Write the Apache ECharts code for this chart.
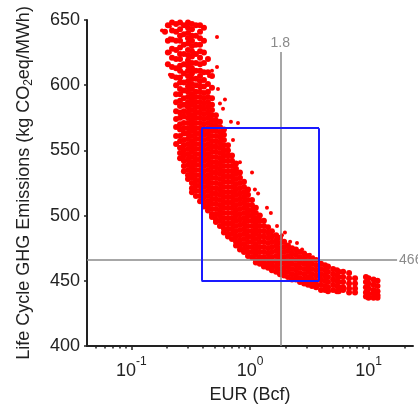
<!DOCTYPE html>
<html>
<head>
<meta charset="utf-8">
<script src="https://cdn.jsdelivr.net/npm/echarts@6/dist/echarts.min.js"></script>
<style>
  html, body { margin: 0; padding: 0; background: #fff; }
  #chart { width: 418px; height: 404px; }
</style>
</head>
<body>
<div id="chart"></div>
<script>
// EUR 列位置 (Bcf)，每列一条竖直的点带
const eurCols = [
  0.192, 0.203, 0.220, 0.238, 0.257, 0.277, 0.300, 0.324, 0.350, 0.379,
  0.409, 0.442, 0.478, 0.516, 0.558, 0.603, 0.652, 0.705, 0.762, 0.823,
  0.890, 0.962, 1.04, 1.12, 1.21, 1.31, 1.42, 1.53, 1.66, 1.79,
  1.94, 2.09, 2.26, 2.44, 2.64, 2.86, 3.09, 3.33, 3.61, 3.97,
  4.29, 4.55, 5.02, 5.42, 5.6, 6.1, 6.85, 7.69, 9.5, 10.0,
  11.0, 11.9
];

// 每列对应的全生命周期排放 (kg CO2eq/MWh)
const ghgCols = [
  [641],
  [646, 634, 625, 616],
  [648, 642, 635, 628, 621, 614, 607],
  [647, 641, 634, 627, 620, 613, 606, 600, 593, 587, 580, 574, 568, 561, 555],
  [648, 643, 638, 634, 629, 624, 620, 615, 611, 606, 602, 597, 593, 588, 584, 579, 575, 570, 566, 561, 557, 552, 548, 544],
  [646, 639, 631, 624, 616, 609, 602, 596, 590, 585, 580, 576, 571, 567, 563, 558, 554, 550, 546, 542, 538, 534],
  [648, 644, 640, 636, 632, 627, 623, 619, 615, 611, 607, 603, 599, 595, 591, 587, 583, 579, 575, 571, 567, 563, 559, 555, 551, 547, 543, 539, 535, 531, 528],
  [647, 643, 638, 634, 630, 626, 622, 617, 613, 609, 605, 601, 597, 593, 589, 585, 581, 577, 573, 569, 565, 561, 557, 553, 549, 545, 541, 537, 533, 529, 525, 521, 518],
  [646, 638, 631, 624, 617, 611, 605, 600, 595, 591, 587, 583, 579, 575, 571, 567, 563, 559, 555, 551, 547, 543, 539, 535, 531, 527, 523, 519, 515],
  [646, 641, 636, 631, 626, 621, 616, 611, 607, 603, 599, 595, 591, 587, 583, 579, 575, 571, 567, 563, 559, 555, 551, 547, 543, 539, 535, 531, 527, 523, 519, 515, 511],
  [644, 634, 625, 617, 610, 604, 599, 594, 590, 586, 582, 578, 574, 570, 566, 562, 558, 554, 550, 546, 542, 538, 534, 530, 526, 522, 518, 514, 510, 507],
  [620, 610, 601, 595, 591, 587, 583, 579, 575, 571, 567, 563, 559, 555, 551, 547, 543, 539, 535, 531, 527, 523, 519, 515, 511, 507, 504],
  [607, 598, 590, 585, 581, 577, 573, 569, 565, 561, 557, 553, 549, 545, 541, 537, 533, 529, 525, 521, 517, 513, 509, 505, 501, 499],
  [577, 573, 569, 565, 561, 557, 553, 549, 545, 541, 537, 533, 529, 525, 521, 517, 513, 509, 505, 501, 497, 495],
  [572, 568, 564, 560, 556, 552, 548, 544, 540, 536, 532, 528, 524, 520, 516, 512, 508, 504, 500, 496, 492],
  [566, 562, 558, 554, 550, 546, 542, 538, 534, 530, 526, 522, 518, 514, 510, 506, 502, 498, 494, 490, 487],
  [554, 550, 546, 542, 538, 534, 530, 526, 522, 518, 514, 510, 506, 502, 498, 494, 490, 486, 484],
  [546, 542, 538, 534, 530, 526, 522, 518, 514, 510, 506, 502, 498, 494, 490, 486, 482],
  [540, 536, 532, 528, 524, 520, 516, 512, 508, 504, 500, 496, 492, 488, 484, 480, 477],
  [533, 529, 525, 521, 517, 513, 509, 505, 501, 497, 493, 489, 485, 481, 477, 474],
  [526, 522, 518, 514, 510, 506, 502, 498, 494, 490, 486, 482, 478, 474, 472],
  [520, 516, 512, 508, 504, 500, 496, 492, 488, 484, 480, 476, 472, 469],
  [512, 508, 504, 500, 496, 492, 488, 484, 480, 476, 472, 468],
  [506, 502, 498, 494, 490, 486, 482, 478, 474, 470, 466, 464],
  [500, 496, 492, 488, 484, 480, 476, 472, 468, 465, 463],
  [496, 492, 488, 484, 480, 476, 472, 468, 464, 461],
  [491, 487, 483, 479, 475, 471, 467, 463, 460],
  [488, 484, 480, 476, 472, 468, 464, 461, 458],
  [485, 481, 477, 473, 469, 465, 461, 457],
  [483, 479, 475, 471, 467, 463, 459, 455],
  [480, 476, 472, 468, 464, 460, 457, 454],
  [477, 473, 469, 465, 461, 457, 453],
  [475, 471, 467, 463, 459, 455, 451],
  [474, 470, 466, 462, 458, 454, 451],
  [472, 468, 464, 460, 456, 452, 449],
  [471, 467, 463, 459, 455, 451, 448],
  [469, 465, 461, 457, 453, 450, 447],
  [467, 463, 459, 455, 451, 448, 446],
  [466, 462, 458, 454, 450, 447, 445],
  [463, 459, 455, 451, 447, 443],
  [462, 458, 454, 450, 446, 443],
  [461, 457, 453, 449, 445, 442],
  [459, 455, 451, 447, 443],
  [458, 454, 450, 446, 442],
  [457, 453, 449, 445, 442],
  [457, 453, 449, 445, 443],
  [456, 452, 448, 444, 441],
  [452, 448, 444, 441],
  [453, 449, 445, 441, 438],
  [452, 448, 444, 440, 437],
  [451, 447, 443, 440, 437],
  [450, 446, 442, 439, 437]
];

// 散落在带外的零星点
const eurOut = [0.181, 0.211, 0.211, 0.211, 0.211, 0.527, 0.527, 0.478, 0.451, 0.537,
  0.615, 0.558, 0.592, 0.691, 0.792, 0.719, 0.823, 1.04, 1.10, 1.17,
  1.39, 1.50, 1.69, 1.86, 1.97, 2.18, 2.49, 2.75, 3.2, 3.4, 4.3, 5.0];
const ghgOut = [642, 645, 636, 625, 608, 637, 614, 611, 607, 597,
  589, 586, 582, 572, 571, 558, 541, 533, 520, 517,
  506, 502, 492, 485, 487, 480, 479, 474, 470, 468, 462, 458];

// 参考线与方框
const eurRef = 1.8;
const ghgRef = 466;
const boxEur = [0.39, 3.82];
const boxGhg = [450, 567];

// 坐标轴刻度
const yTicks = [400, 450, 500, 550, 600, 650];
const xMajor = [0.1, 1, 10];
const xMinor = [0.05, 0.06, 0.07, 0.08, 0.09, 0.2, 0.3, 0.4, 0.5, 0.6, 0.7, 0.8, 0.9,
  2, 3, 4, 5, 6, 7, 8, 9, 20];

const xMin = 0.0422;
const xMax = 23.7;

const corePoints = [];
eurCols.forEach((x, i) => {
  ghgCols[i].forEach(y => corePoints.push([x, y]));
});
const outPoints = eurOut.map((x, i) => [x, ghgOut[i]]);

const chart = echarts.init(document.getElementById('chart'));
const font = 'Liberation Sans, Arial, sans-serif';
const grayLine = { color: '#8a8a8a', width: 1.5, type: 'solid' };
const blueLine = { color: '#1a1aff', width: 2, type: 'solid' };

const option = {
  animation: false,
  grid: { left: 87, right: 5, top: 20, bottom: 58, outerBoundsMode: 'none', containLabel: false },
  xAxis: [
    {
      type: 'log',
      logBase: 10,
      min: xMin,
      max: xMax,
      name: 'EUR (Bcf)',
      nameLocation: 'middle',
      nameGap: 40,
      nameTextStyle: { fontSize: 18, color: '#222', fontFamily: font },
      axisLine: { show: true, onZero: false, lineStyle: { color: '#222', width: 2 } },
      axisTick: { show: true, length: 4, customValues: xMajor, lineStyle: { color: '#222', width: 1.5 } },
      splitLine: { show: false },
      axisLabel: {
        customValues: xMajor,
        margin: 10,
        formatter: function (v) {
          const e = Math.round(Math.log10(v));
          return '{b|10}{p|' + e + '}';
        },
        rich: {
          b: { fontSize: 18, color: '#222', fontFamily: font, verticalAlign: 'bottom', lineHeight: 24 },
          p: { fontSize: 12, color: '#222', fontFamily: font, verticalAlign: 'top', lineHeight: 12 }
        }
      }
    },
    {
      type: 'log',
      logBase: 10,
      min: xMin,
      max: xMax,
      position: 'bottom',
      axisLine: { show: false, onZero: false },
      axisTick: { show: true, length: 2.5, customValues: xMinor, lineStyle: { color: '#222', width: 1.5 } },
      axisLabel: { show: false },
      splitLine: { show: false }
    }
  ],
  yAxis: {
    type: 'value',
    min: 400,
    max: 650,
    interval: 50,
    name: '{t|Life Cycle GHG Emissions (kg CO}{s|2}{t|eq/MWh)}',
    nameLocation: 'middle',
    nameGap: 52,
    nameTextStyle: {
      rich: {
        t: { fontSize: 18, color: '#222', fontFamily: font, verticalAlign: 'middle', lineHeight: 22 },
        s: { fontSize: 12, color: '#222', fontFamily: font, verticalAlign: 'bottom', lineHeight: 12 }
      }
    },
    axisLine: { show: true, lineStyle: { color: '#222', width: 2 } },
    axisTick: { show: true, length: 3, lineStyle: { color: '#222', width: 1.5 } },
    splitLine: { show: false },
    axisLabel: {
      customValues: yTicks,
      fontSize: 18,
      color: '#222',
      fontFamily: font,
      margin: 7
    }
  },
  series: [
    {
      name: 'core',
      type: 'scatter',
      xAxisIndex: 0,
      data: corePoints,
      symbolSize: 6,
      itemStyle: { color: '#ff0000', opacity: 1 },
      z: 2
    },
    {
      name: 'scatter',
      type: 'scatter',
      xAxisIndex: 0,
      data: outPoints,
      symbolSize: 4,
      itemStyle: { color: '#ff0000', opacity: 1 },
      z: 2
    },
    {
      name: 'ref',
      type: 'scatter',
      xAxisIndex: 0,
      data: [],
      z: 10,
      markLine: {
        silent: true,
        symbol: 'none',
        animation: false,
        data: [
          [
            { coord: [eurRef, 400], lineStyle: grayLine,
              label: { show: true, position: 'end', distance: 2, formatter: String(eurRef), color: '#8a8a8a', fontSize: 14, fontFamily: font } },
            { coord: [eurRef, 625.5] }
          ],
          [
            { coord: [xMin, ghgRef], lineStyle: grayLine,
              label: { show: true, position: 'end', distance: 2, formatter: String(ghgRef), color: '#8a8a8a', fontSize: 14, fontFamily: font } },
            { coord: [17.4, ghgRef] }
          ],
          [
            { coord: [boxEur[0], boxGhg[0]], lineStyle: blueLine, label: { show: false } },
            { coord: [boxEur[1], boxGhg[0]] }
          ],
          [
            { coord: [boxEur[0], boxGhg[1]], lineStyle: blueLine, label: { show: false } },
            { coord: [boxEur[1], boxGhg[1]] }
          ],
          [
            { coord: [boxEur[0], boxGhg[0]], lineStyle: blueLine, label: { show: false } },
            { coord: [boxEur[0], boxGhg[1]] }
          ],
          [
            { coord: [boxEur[1], boxGhg[0]], lineStyle: blueLine, label: { show: false } },
            { coord: [boxEur[1], boxGhg[1]] }
          ]
        ]
      }
    }
  ]
};

chart.setOption(option);

window.addEventListener('resize', function () {
  chart.resize();
});
</script>
</body>
</html>
